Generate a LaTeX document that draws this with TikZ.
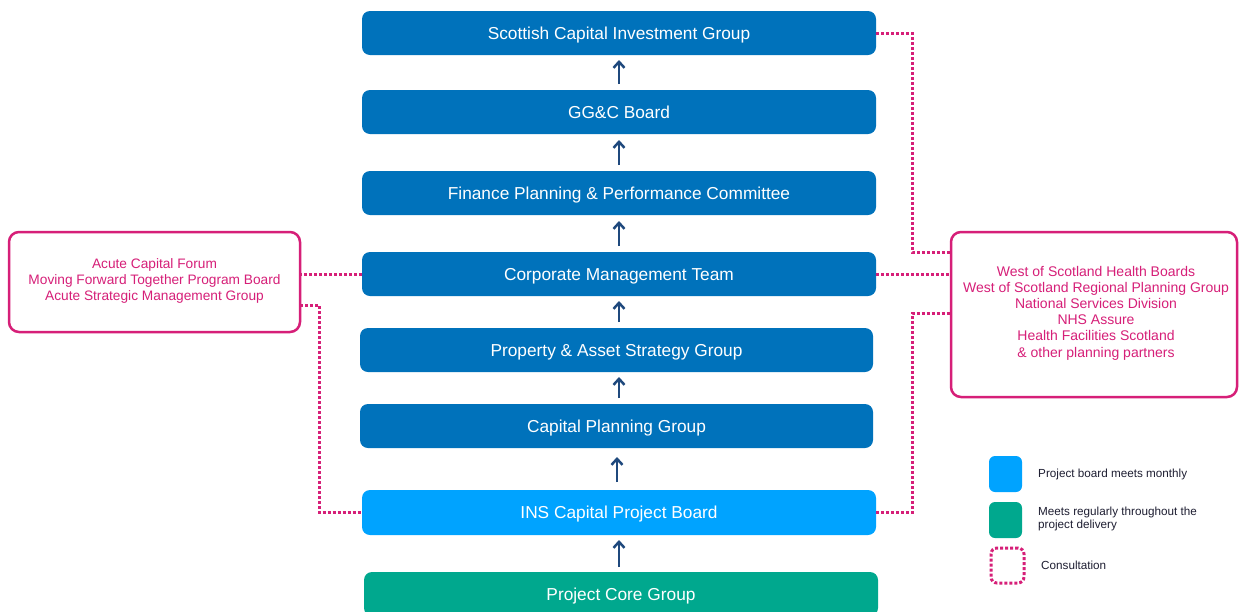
\documentclass[tikz,border=0pt]{standalone}
\usepackage{fontspec}
\setmainfont{Liberation Sans}
\usetikzlibrary{arrows.meta,calc}
\definecolor{darkbox}{RGB}{0,114,187}
\definecolor{lightbox}{RGB}{0,163,255}
\definecolor{greenbox}{RGB}{0,168,142}
\definecolor{mag}{RGB}{214,31,120}
\definecolor{arrowc}{RGB}{31,73,125}
\definecolor{legtext}{RGB}{30,30,50}
\tikzset{
  mainbox/.style={rectangle, rounded corners=8pt, fill=darkbox, text=white, minimum width=514pt, minimum height=44pt, inner sep=0pt, outer sep=0pt, text height=12.4pt, text depth=0pt, font=\fontsize{17.3}{20}\selectfont},
  magbox/.style={rectangle, rounded corners=10pt, draw=mag, line width=2.5pt, fill=white, inner sep=0pt, outer sep=0pt},
  magtext/.style={text=mag, align=center, inner sep=0pt},
  cons/.style={draw=mag, line width=3pt, dash pattern=on 3pt off 2pt},
  uparrow/.style={draw=arrowc, line width=2.7pt, -{Straight Barb[length=6pt,width=11pt,line width=2.5pt]}},
  legsq/.style={rectangle, rounded corners=6pt, minimum width=33pt, minimum height=36pt, inner sep=0pt},
  legtxt/.style={anchor=west, text=legtext, align=left, font=\fontsize{11.7}{13}\selectfont, inner sep=0pt}
}
\begin{document}
\begin{tikzpicture}[x=1pt,y=-1pt]
\useasboundingbox (0,0) rectangle (1239,611);
\clip (0,0) rectangle (1239,611);
\fill[white] (0,0) rectangle (1239,611);

\node[mainbox] (b1) at (619,33) {Scottish Capital Investment Group};
\node[mainbox] (b2) at (619,112) {GG\&C Board};
\node[mainbox] (b3) at (619,193) {Finance Planning \& Performance Committee};
\node[mainbox] (b4) at (619,274) {Corporate Management Team};
\node[mainbox, minimum width=513pt] (b5) at (616.5,350) {Property \& Asset Strategy Group};
\node[mainbox, minimum width=513pt] (b6) at (616.5,426) {Capital Planning Group};
\node[mainbox, fill=lightbox, minimum height=45pt] (b7) at (619,512.5) {INS Capital Project Board};
\node[mainbox, fill=greenbox] (b8) at (621,594) {Project Core Group};

\draw[uparrow] (619,84) -- (619,60);
\draw[uparrow] (619,165) -- (619,140);
\draw[uparrow] (619,246) -- (619,221);
\draw[uparrow] (619,322) -- (619,301);
\draw[uparrow] (619,398) -- (619,377);
\draw[uparrow] (617,482) -- (617,457);
\draw[uparrow] (619,567) -- (619,540);

\node[magbox, minimum width=291pt, minimum height=100pt] (lbox) at (154.5,282) {};
\node[magtext, font=\fontsize{13.7}{16}\selectfont] (ltext) at (154.5,281) {Acute Capital Forum\\Moving Forward Together Program Board\\Acute Strategic Management Group};
\node[magbox, minimum width=286pt, minimum height=165pt] (rbox) at (1094,314.5) {};
\node[magtext, font=\fontsize{14}{16.2}\selectfont] (rtext) at (1096,313) {West of Scotland Health Boards\\West of Scotland Regional Planning Group\\National Services Division\\NHS Assure\\Health Facilities Scotland\\\& other planning partners};

\draw[cons] (b4.west) -- (lbox.east |- b4.west);
\draw[cons] ($(lbox.north east)+(0,73)$) -- ++(19,0) |- (b7.west);
\draw[cons] (b1.east) -- ++(36,0) |- ($(rbox.north west)+(0,20)$);
\draw[cons] (b4.east) -- (rbox.west |- b4.east);
\draw[cons] (b7.east) -- ++(36,0) |- ($(rbox.north west)+(0,81)$);

\node[legsq, fill=lightbox] (l1) at (1005.5,474) {};
\node[legsq, fill=greenbox] (l2) at (1005.5,520) {};
\node[legsq, draw=mag, line width=3pt, dash pattern=on 3pt off 2pt, minimum width=33pt, minimum height=35pt] (l3) at (1007.5,565.5) {};
\node[legtxt] (t1) at (1038,474) {Project board meets monthly};
\node[legtxt] (t2) at (1038,518.5) {Meets regularly throughout the\\project delivery};
\node[legtxt] (t3) at (1041,565) {Consultation};
\end{tikzpicture}
\end{document}
